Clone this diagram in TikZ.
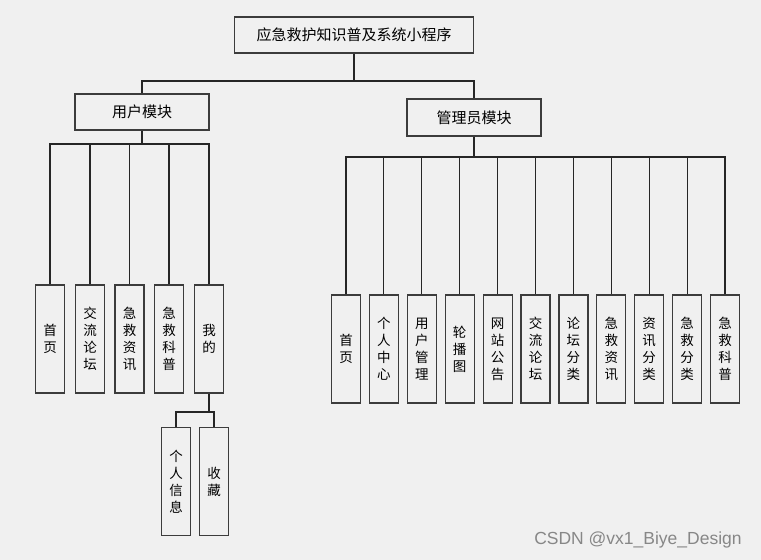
\documentclass[tikz,border=0pt]{standalone}
\usepackage{fontspec}
\usepackage{tikz}
\usetikzlibrary{positioning,calc}
\newfontfamily\cjk{Noto Sans CJK SC}
\newfontfamily\wmfont{Liberation Sans}
\definecolor{pagegray}{RGB}{240,240,240}
\definecolor{boxline}{RGB}{60,60,60}
\definecolor{wmgray}{RGB}{135,135,135}

\tikzset{
  modbox/.style={draw=boxline, line width=1.2pt, rectangle, inner sep=0pt, minimum height=36pt, font=\cjk\fontsize{15}{17}\selectfont},
  leafbox/.style={draw=boxline, line width=1.2pt, rectangle, inner sep=0pt, minimum width=29pt, minimum height=108pt, align=center, font=\cjk\fontsize{13.5}{17}\selectfont},
  link/.style={draw=black!85, line width=1.1pt},
}

\begin{document}
\begin{tikzpicture}[x=1pt, y=-1pt]
    % page
    \fill[pagegray] (0,0) rectangle (761,560);
    \useasboundingbox (0,0) rectangle (761,560);

    % Top level
    \node[modbox, minimum width=239pt] (root) at (354,35) {应急救护知识普及系统小程序};
    \node[modbox, minimum width=134pt] (user) at (142,112) {用户模块};
    \node[modbox, minimum width=134pt, minimum height=37pt] (admin) at (474,117.5) {管理员模块};

    \coordinate (rbus) at (354,81);
    \draw[link] (root.south) -- (rbus);
    \draw[link] (user.north) |- (rbus) -| (admin.north);

    % User module leaves
    \coordinate (ubus) at (142,144);
    \draw[link] (user.south) -- (ubus);
    \foreach \x/\t [count=\i] in {50/{首\\页}, 90/{交\\流\\论\\坛}, 129.5/{急\\救\\资\\讯}, 169/{急\\救\\科\\普}, 209/{我\\的}} {
        \node[leafbox] (u\i) at (\x,339) {\t};
        \draw[link] (u\i.north) |- (ubus);
    }

    % Mine sub-leaves
    \node[leafbox] (m1) at (176,481.5) {个\\人\\信\\息};
    \node[leafbox] (m2) at (214,481.5) {收\\藏};
    \coordinate (mbus) at (209,412);
    \draw[link] (u5.south) -- (mbus);
    \draw[link] (m1.north) |- (mbus);
    \draw[link] (m2.north) |- (mbus);

    % Admin module leaves
    \coordinate (abus) at (474,157);
    \draw[link] (admin.south) -- (abus);
    \foreach \t [count=\i] in {{首\\页}, {个\\人\\中\\心}, {用\\户\\管\\理}, {轮\\播\\图}, {网\\站\\公\\告}, {交\\流\\论\\坛}, {论\\坛\\分\\类}, {急\\救\\资\\讯}, {资\\讯\\分\\类}, {急\\救\\分\\类}, {急\\救\\科\\普}} {
        \node[leafbox] (a\i) at ({346+37.9*(\i-1)},349) {\t};
        \draw[link] (a\i.north) |- (abus);
    }

    % watermark
    \node[font=\wmfont\fontsize{17.5}{19}\selectfont, text=wmgray] (wm) at (638,540) {CSDN @vx1\_Biye\_Design};
\end{tikzpicture}
\end{document}
